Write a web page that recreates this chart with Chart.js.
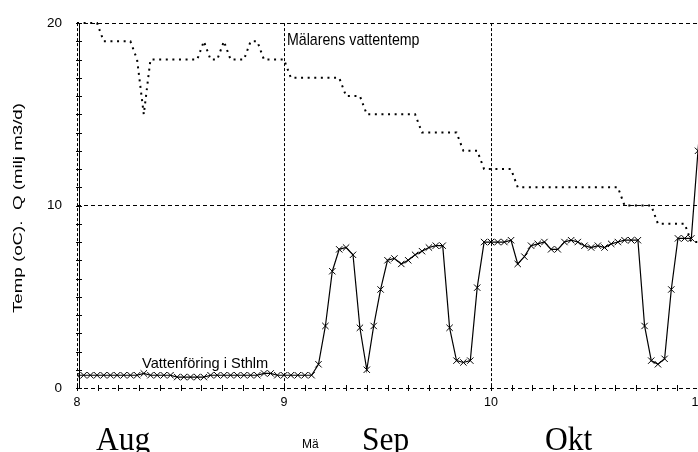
<!DOCTYPE html>
<html>
<head>
<meta charset="utf-8">
<script src="https://cdn.jsdelivr.net/npm/chart.js@4.4.1/dist/chart.umd.min.js"></script>
<style>
  html, body { margin: 0; padding: 0; background: #fff; overflow: hidden; }
  #wrap { width: 698px; height: 452px; overflow: hidden; }
  canvas { display: block; }
</style>
</head>
<body>
<div id="wrap"><canvas id="chart" width="730" height="452"></canvas></div>
<script>
// months on the x axis (8 = Aug, 9 = Sep, 10 = Okt, 11 = Nov)
var monthStart = [8, 9, 10, 11];
var monthLength = [31, 30, 31, 30];
var monthLabels = ['Aug', 'Sep', 'Okt'];

// Mälarens vattentemp, daily (oC)
var tempAug = [20, 20, 20, 20, 19, 19, 19, 19, 19, 18, 15, 18, 18, 18, 18, 18, 18, 18, 18, 19, 18, 18, 19, 18, 18, 18, 19, 19, 18, 18, 18];
var tempSep = [18, 17, 17, 17, 17, 17, 17, 17, 17, 16, 16, 16, 15, 15, 15, 15, 15, 15, 15, 15, 14, 14, 14, 14, 14, 14, 13, 13, 13, 12];
var tempOkt = [12, 12, 12, 12, 11, 11, 11, 11, 11, 11, 11, 11, 11, 11, 11, 11, 11, 11, 11, 11, 10, 10, 10, 10, 10, 9, 9, 9, 9, 9, 8];
var tempNov = [8];

// Vattenföring i Sthlm, daily (milj m3/d)
var flowAug = [0.7, 0.7, 0.7, 0.7, 0.7, 0.7, 0.7, 0.7, 0.7, 0.7, 0.8, 0.7, 0.7, 0.7, 0.7, 0.6, 0.6, 0.6, 0.6, 0.6, 0.7, 0.7, 0.7, 0.7, 0.7, 0.7, 0.7, 0.7, 0.8, 0.8, 0.7];
var flowSep = [0.7, 0.7, 0.7, 0.7, 0.7, 1.3, 3.4, 6.4, 7.6, 7.7, 7.3, 3.3, 1.0, 3.4, 5.4, 7.0, 7.1, 6.8, 7.0, 7.3, 7.5, 7.7, 7.8, 7.8, 3.3, 1.5, 1.4, 1.5, 5.5, 8.0];
var flowOkt = [8.0, 8.0, 8.0, 8.1, 6.8, 7.2, 7.8, 7.9, 8.0, 7.6, 7.6, 8.0, 8.1, 8.0, 7.8, 7.7, 7.8, 7.7, 7.9, 8.0, 8.1, 8.1, 8.1, 3.4, 1.5, 1.3, 1.6, 5.4, 8.2, 8.2, 8.2];
var flowNov = [13.0, 17.5];

var yTitle = 'Temp (oC).  Q (milj m3/d)';
var tempName = 'Mälarens vattentemp';
var flowName = 'Vattenföring i Sthlm';

function toPoints(months) {
    var pts = [];
    months.forEach(function (vals, i) {
        vals.forEach(function (v, d) {
            pts.push({x: monthStart[i] + d / monthLength[i], y: v});
        });
    });
    return pts;
}

function near(v, list) {
    return list.some(function (m) { return Math.abs(v - m) < 1e-6; });
}

function stretchText(ctx, str, x, y, font, sx, sy) {
    ctx.save();
    ctx.translate(x, y);
    ctx.scale(sx, sy);
    ctx.font = font;
    ctx.fillText(str, 0, 0);
    ctx.restore();
}

var decor = {
    id: 'decor',
    afterDraw: function (chart) {
        var ctx = chart.ctx, a = chart.chartArea, x = chart.scales.x, y = chart.scales.y;
        ctx.save();
        ctx.strokeStyle = '#000';
        ctx.fillStyle = '#000';
        ctx.lineWidth = 1;

        // solid left axis next to the dashed one
        ctx.beginPath();
        ctx.moveTo(a.left + 2.5, a.top);
        ctx.lineTo(a.left + 2.5, a.bottom);
        ctx.stroke();

        // minor tick marks crossing the axes
        ctx.beginPath();
        x.ticks.forEach(function (t) {
            var px = Math.round(x.getPixelForValue(t.value)) + 0.5;
            ctx.moveTo(px, a.bottom - 3);
            ctx.lineTo(px, a.bottom + 3);
        });
        y.ticks.forEach(function (t) {
            var py = Math.round(y.getPixelForValue(t.value)) + 0.5;
            ctx.moveTo(a.left - 1, py);
            ctx.lineTo(a.left + 5, py);
        });
        ctx.stroke();

        ctx.textBaseline = 'alphabetic';
        ctx.textAlign = 'left';

        // y axis title, rotated and stretched along the text
        ctx.save();
        ctx.font = '12px "Liberation Sans", Arial, sans-serif';
        var w = ctx.measureText(yTitle).width;
        ctx.translate(22, 208);
        ctx.rotate(-Math.PI / 2);
        ctx.scale(210 / w, 1);
        ctx.textAlign = 'center';
        ctx.fillText(yTitle, 0, 0);
        ctx.restore();

        // series names
        stretchText(ctx, tempName, 287, 45, '14.2px "Liberation Sans", Arial, sans-serif', 1, 1.12);
        stretchText(ctx, flowName, 142, 367.5, '14.6px "Liberation Sans", Arial, sans-serif', 1, 1.04);

        // month names
        var mx = [96, 362, 545];
        monthLabels.forEach(function (m, i) {
            stretchText(ctx, m, mx[i], 449.5, '31.5px "Liberation Serif", "Times New Roman", serif', 1, 1.04);
        });

        // partly hidden axis text
        ctx.save();
        ctx.beginPath();
        ctx.rect(295, 430, 24, 22);
        ctx.clip();
        stretchText(ctx, 'Mälaren', 302, 448, '12px "Liberation Sans", Arial, sans-serif', 1, 1.05);
        ctx.restore();

        ctx.restore();
    }
};

var chart = new Chart(document.getElementById('chart'), {
    type: 'line',
    data: {
        datasets: [{
            label: tempName,
            data: toPoints([tempAug, tempSep, tempOkt, tempNov]),
            borderColor: '#000',
            borderWidth: 2,
            borderDash: [2, 4.6],
            borderCapStyle: 'butt',
            pointRadius: 0,
            tension: 0,
            fill: false,
            clip: 6
        }, {
            label: flowName,
            data: toPoints([flowAug, flowSep, flowOkt, flowNov]),
            borderColor: '#000',
            borderWidth: 1.2,
            pointStyle: 'crossRot',
            pointRadius: 4.5,
            pointBorderWidth: 1,
            pointBorderColor: '#000',
            pointBackgroundColor: '#000',
            tension: 0,
            fill: false
        }]
    },
    options: {
        responsive: false,
        animation: false,
        devicePixelRatio: 1,
        layout: {padding: {left: 0, top: 19, right: 11.3, bottom: 0}},
        plugins: {legend: {display: false}, tooltip: {enabled: false}},
        scales: {
            x: {
                type: 'linear',
                min: 8,
                max: 11.1,
                afterFit: function (s) { s.height = 64; },
                border: {display: false, dash: [3, 2]},
                grid: {
                    drawTicks: false,
                    lineWidth: 1,
                    color: function (c) { return near(c.tick.value, [8, 9, 10]) ? '#000' : 'rgba(0,0,0,0)'; }
                },
                ticks: {
                    stepSize: 0.1,
                    autoSkip: false,
                    maxRotation: 0,
                    padding: 7,
                    color: '#000',
                    font: {family: '"Liberation Sans", Arial, sans-serif', size: 12.5},
                    callback: function (v) { return near(v, [8, 9, 10, 11]) ? String(Math.round(v)) : ''; }
                }
            },
            y: {
                min: 0,
                max: 20,
                afterFit: function (s) { s.width = 77; },
                border: {display: false, dash: [4, 3]},
                grid: {
                    drawTicks: false,
                    lineWidth: 1,
                    color: function (c) { return near(c.tick.value, [0, 10, 20]) ? '#000' : 'rgba(0,0,0,0)'; }
                },
                ticks: {
                    stepSize: 1,
                    autoSkip: false,
                    padding: 15,
                    color: '#000',
                    font: {family: '"Liberation Sans", Arial, sans-serif', size: 13.5},
                    callback: function (v) { return near(v, [0, 10, 20]) ? String(v) : ''; }
                }
            }
        }
    },
    plugins: [decor]
});
</script>
</body>
</html>
